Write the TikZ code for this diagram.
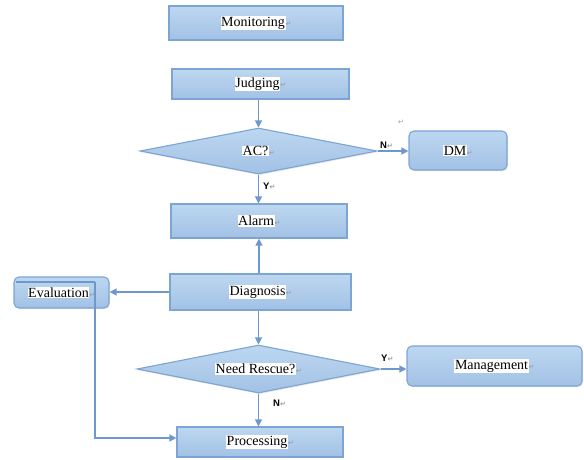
\documentclass[tikz,border=0pt]{standalone}
\usepackage{fontspec}
\setmainfont{Liberation Serif}
\setsansfont{Liberation Sans}
\newfontfamily\dejavu{DejaVu Sans}
\usetikzlibrary{arrows.meta,shapes.geometric,shadows}
\definecolor{boxtop}{HTML}{BDD7F0}
\definecolor{boxbot}{HTML}{A2C1E5}
\definecolor{boxline}{HTML}{7CA4D4}
\definecolor{arrcol}{HTML}{6E98CC}
\newcommand{\parmark}{{\color{gray!80}\fontsize{7}{8}\selectfont\dejavu ↵}}
\newcommand{\hlt}[1]{{\setlength{\fboxsep}{0.6pt}\colorbox{white}{#1}}}
\begin{document}
\begin{tikzpicture}[x=1pt,y=-1pt,
  base/.style={draw=boxline, line width=1.1pt, top color=boxtop, bottom color=boxbot,
    font=\fontsize{14}{16}\selectfont, text=black, inner sep=0pt,
    drop shadow={opacity=0.18, shadow xshift=1pt, shadow yshift=-1.2pt}},
  rbox/.style={base, rectangle},
  rrbox/.style={base, rectangle, rounded corners=5pt},
  dia/.style={base, diamond, aspect=5},
  arr/.style={draw=arrcol, line width=1.2pt, -{Triangle[width=7pt,length=7pt]}},
  lin/.style={draw=arrcol, line width=1.2pt},
  yn/.style={font=\sffamily\bfseries\fontsize{9.5}{10}\selectfont, inner sep=0pt}
]
\useasboundingbox (0,0) rectangle (584,459);

\node[rbox, minimum width=174pt, minimum height=34pt] (mon) at (256,23) {\hlt{Monitoring}\parmark};
\node[rbox, minimum width=177pt, minimum height=30pt] (jud) at (260.5,84) {\hlt{Judging}\parmark};
\node[dia, minimum width=237pt, minimum height=46pt] (ac) at (258.5,151) {\hlt{AC?}\parmark};
\node[rrbox, minimum width=98pt, minimum height=39pt] (dm) at (458,150.5) {\hlt{DM}\parmark};
\node[rbox, minimum width=176pt, minimum height=34pt] (alarm) at (259,221) {\hlt{Alarm}\parmark};
\node[rbox, minimum width=181pt, minimum height=36pt] (diag) at (260.5,292) {\hlt{Diagnosis}\parmark};
\node[rrbox, minimum width=95pt, minimum height=31pt] (eval) at (61.5,292.5) {\hlt{Evaluation}\parmark};
\node[dia, minimum width=243pt, minimum height=48pt] (nr) at (258.5,369) {\hlt{Need Rescue?}\parmark};
\node[rrbox, minimum width=175pt, minimum height=40pt] (man) at (494.5,366) {\hlt{Management}\parmark};
\node[rbox, minimum width=166pt, minimum height=30pt] (proc) at (260,442) {\hlt{Processing}\parmark};

\draw[arr] (ac.north |- jud.south) -- (ac.north);
\draw[arr] (ac.east) -- (ac.east -| dm.west);
\draw[arr] (ac.south) -- (ac.south |- alarm.north);
\draw[arr] (diag.north -| alarm.south) -- (alarm.south);
\draw[arr] (diag.west) -- (diag.west -| eval.east);
\draw[arr] (diag.south -| nr.north) -- (nr.north);
\draw[arr] (nr.east) -- (nr.east -| man.west);
\draw[arr] (nr.south) -- (nr.south |- proc.north);

\coordinate (fbstart) at (16,282);
\coordinate (fbcorner) at (95,282);
\coordinate (fbtarget) at ([yshift=4pt]proc.west);
\draw[lin] (fbstart) -- (fbcorner);
\draw[arr] (fbcorner) |- (fbtarget);

\node[yn, anchor=west] (ln1) at (380,145) {N\parmark};
\node[yn, anchor=west] (ly1) at (263,186) {Y\parmark};
\node[yn, anchor=west] (ly2) at (381,358) {Y\parmark};
\node[yn, anchor=west] (ln2) at (273,403) {N\parmark};
\node[inner sep=0pt] (stray) at (401,122) {\parmark};
\end{tikzpicture}
\end{document}
